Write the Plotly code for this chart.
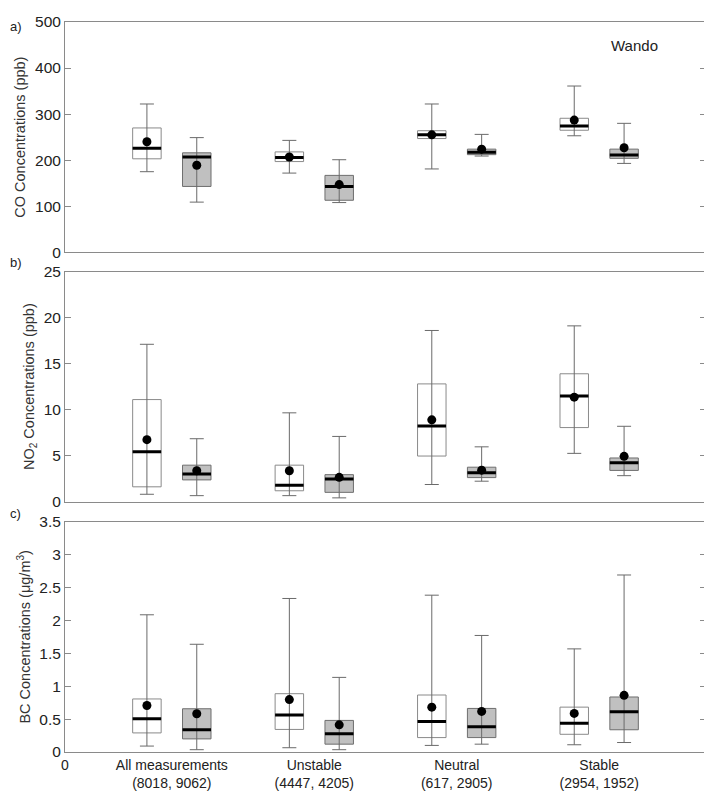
import plotly.graph_objects as go

# ---------------- data ----------------
categories = ["All measurements<br>(8018, 9062)", "Unstable<br>(4447, 4205)",
              "Neutral<br>(617, 2905)", "Stable<br>(2954, 1952)"]
cat_pos = [0.75, 1.75, 2.75, 3.75]

# Panel a: CO (ppb)  -- white series then gray series
co_white_low = [175, 172, 181, 253]
co_white_q1 = [203, 197, 247, 265]
co_white_med = [226, 206, 255, 274]
co_white_q3 = [270, 218, 264, 291]
co_white_high = [322, 243, 322, 361]
co_white_mean = [240, 207, 255, 287]

co_gray_low = [109, 108, 209, 193]
co_gray_q1 = [143, 113, 212, 204]
co_gray_med = [207, 143, 217, 211]
co_gray_q3 = [216, 167, 224, 224]
co_gray_high = [249, 201, 256, 280]
co_gray_mean = [189, 147, 224, 227]

# Panel b: NO2 (ppb)
no2_white_low = [0.82, 0.67, 1.88, 5.26]
no2_white_q1 = [1.63, 1.2, 4.97, 8.06]
no2_white_med = [5.43, 1.81, 8.24, 11.5]
no2_white_q3 = [11.1, 3.98, 12.8, 13.9]
no2_white_high = [17.1, 9.66, 18.6, 19.1]
no2_white_mean = [6.75, 3.37, 8.9, 11.36]

no2_gray_low = [0.67, 0.43, 2.24, 2.84]
no2_gray_q1 = [2.38, 1.03, 2.63, 3.41]
no2_gray_med = [3.02, 2.49, 3.16, 4.23]
no2_gray_q3 = [3.98, 2.95, 3.76, 4.76]
no2_gray_high = [6.85, 7.1, 5.97, 8.2]
no2_gray_mean = [3.37, 2.66, 3.44, 4.94]

# Panel c: BC (ug/m3)
bc_white_low = [0.09, 0.065, 0.10, 0.11]
bc_white_q1 = [0.29, 0.343, 0.219, 0.269]
bc_white_med = [0.507, 0.562, 0.463, 0.438]
bc_white_q3 = [0.806, 0.886, 0.866, 0.682]
bc_white_high = [2.085, 2.333, 2.383, 1.567]
bc_white_mean = [0.706, 0.796, 0.682, 0.587]

bc_gray_low = [0.035, 0.035, 0.119, 0.144]
bc_gray_q1 = [0.199, 0.119, 0.219, 0.338]
bc_gray_med = [0.338, 0.279, 0.383, 0.612]
bc_gray_q3 = [0.657, 0.48, 0.662, 0.836]
bc_gray_high = [1.637, 1.134, 1.771, 2.69]
bc_gray_mean = [0.582, 0.413, 0.617, 0.861]

y_titles = ["CO Concentrations (ppb)", "NO<sub>2</sub> Concentrations (ppb)",
            "BC Concentrations (μg/m<sup>3</sup>)"]
y_ranges = [[0, 500], [0, 25], [0, 3.5]]
y_dticks = [100, 5, 0.5]
panel_labels = ["a)", "b)", "c)"]

# ---------------- styling ----------------
FONT = "Arial, Liberation Sans, sans-serif"
AXIS_COLOR = "#8a8a8a"
WHISK_COLOR = "#6a6a6a"
OFFSET = 0.175
BOX_W = 0.2

panels = [
    ((co_white_low, co_white_q1, co_white_med, co_white_q3, co_white_high, co_white_mean),
     (co_gray_low, co_gray_q1, co_gray_med, co_gray_q3, co_gray_high, co_gray_mean)),
    ((no2_white_low, no2_white_q1, no2_white_med, no2_white_q3, no2_white_high, no2_white_mean),
     (no2_gray_low, no2_gray_q1, no2_gray_med, no2_gray_q3, no2_gray_high, no2_gray_mean)),
    ((bc_white_low, bc_white_q1, bc_white_med, bc_white_q3, bc_white_high, bc_white_mean),
     (bc_gray_low, bc_gray_q1, bc_gray_med, bc_gray_q3, bc_gray_high, bc_gray_mean)),
]

domains = [[0.6845, 1.0], [0.3427, 0.6582], [0.0, 0.3155]]

fig = go.Figure()

for i, (white, gray) in enumerate(panels):
    xa = "x" if i == 0 else f"x{i+1}"
    ya = "y" if i == 0 else f"y{i+1}"
    for series, off, fill, outline in [(white, -OFFSET, "white", "#8a8a8a"),
                                       (gray, OFFSET, "#c0c0c0", "#6e6e6e")]:
        low, q1, med, q3, high, mean = series
        xs = [c + off for c in cat_pos]
        fig.add_trace(go.Box(
            x=xs, q1=q1, median=med, q3=q3, lowerfence=q1, upperfence=q3,
            width=BOX_W, whiskerwidth=0, fillcolor=fill,
            line=dict(color=outline, width=1), boxpoints=False,
            xaxis=xa, yaxis=ya, showlegend=False, hoverinfo="skip"))
        # whisker line running through the box with caps
        fig.add_trace(go.Scatter(
            x=xs, y=low, mode="markers",
            marker=dict(size=1, color="rgba(0,0,0,0)"),
            error_y=dict(type="data", symmetric=False,
                         array=[h - l for h, l in zip(high, low)],
                         arrayminus=[0] * len(low),
                         width=7, thickness=1, color=WHISK_COLOR),
            xaxis=xa, yaxis=ya, showlegend=False, hoverinfo="skip"))
        # thick median line
        fig.add_trace(go.Scatter(
            x=xs, y=med, mode="markers",
            marker=dict(size=1, color="rgba(0,0,0,0)"),
            error_x=dict(type="constant", value=BOX_W / 2, width=0,
                         thickness=3, color="black"),
            xaxis=xa, yaxis=ya, showlegend=False, hoverinfo="skip"))
        # mean dot
        fig.add_trace(go.Scatter(
            x=xs, y=mean, mode="markers",
            marker=dict(size=9, color="black"),
            xaxis=xa, yaxis=ya, showlegend=False, hoverinfo="skip"))

layout = dict(
    width=704, height=788,
    margin=dict(l=57, r=5, t=5, b=39),
    paper_bgcolor="white", plot_bgcolor="white",
    font=dict(family=FONT, size=14, color="#222222"),
    boxmode="overlay", showlegend=False,
)

for i in range(3):
    xkey = "xaxis" if i == 0 else f"xaxis{i+1}"
    ykey = "yaxis" if i == 0 else f"yaxis{i+1}"
    yname = "y" if i == 0 else f"y{i+1}"
    xname = "x" if i == 0 else f"x{i+1}"
    xax = dict(range=[0, 4.5], domain=[0, 1], anchor=yname,
               showline=True, mirror=True, linecolor=AXIS_COLOR, linewidth=1,
               showgrid=False, zeroline=False, ticks="", fixedrange=True)
    if i == 2:
        xax.update(tickmode="array", tickvals=[0] + cat_pos,
                   ticktext=["0"] + categories,
                   tickfont=dict(family=FONT, size=14, color="#222222"))
    else:
        xax.update(showticklabels=False)
    layout[xkey] = xax
    layout[ykey] = dict(
        range=y_ranges[i], dtick=y_dticks[i], domain=domains[i], anchor=xname,
        showline=True, mirror="ticks", linecolor=AXIS_COLOR, linewidth=1,
        ticks="inside", ticklen=6, tickcolor=AXIS_COLOR,
        showgrid=False, zeroline=False,
        tickfont=dict(family=FONT, size=15.5, color="#222222"),
        title=dict(text=y_titles[i], standoff=5,
                   font=dict(family=FONT, size=14.5, color="#333333")),
        fixedrange=True)

fig.update_layout(**layout)

label_pos = [(1.0067, "top"), (0.6707, "middle"), (0.3266, "middle")]
for lab, (ly, anc) in zip(panel_labels, label_pos):
    fig.add_annotation(text=lab, xref="paper", yref="paper", x=-0.0888, y=ly,
                       xanchor="left", yanchor=anc, showarrow=False,
                       font=dict(family=FONT, size=13, color="#222222"))

fig.add_annotation(text="Wando", xref="x", yref="y", x=4.0, y=450,
                   showarrow=False, xanchor="center", yanchor="middle",
                   font=dict(family=FONT, size=15, color="#222222"))

fig.write_html("out.html")
